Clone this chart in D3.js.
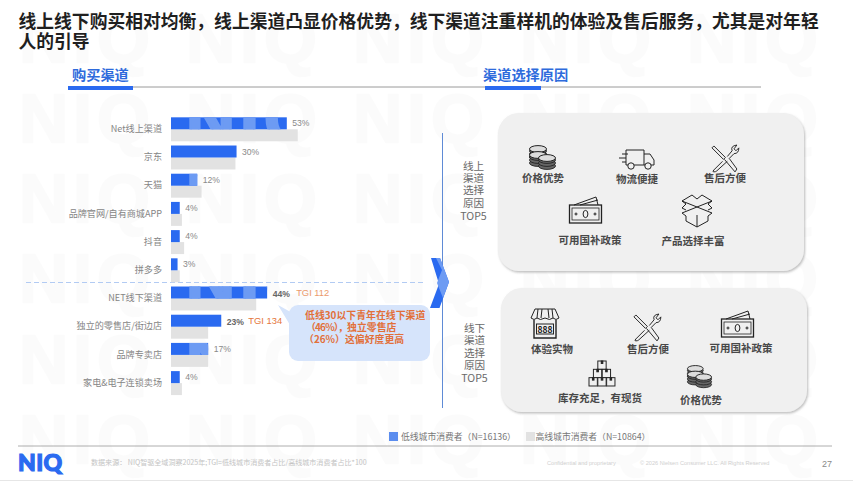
<!DOCTYPE html>
<html lang="zh-CN">

<head>
    <meta charset="UTF-8">
    <title>购买渠道</title>
    <script src="https://d3js.org/d3.v7.min.js"></script>
    <style>
        html, body { margin: 0; padding: 0; background: #fff; overflow: hidden; }
        svg { display: block; font-family: "Noto Sans CJK SC", "Liberation Sans", sans-serif; }
    </style>
</head>

<body>
    <svg width="853" height="481"></svg>
    <script>
        const channels = ["Net线上渠道", "京东", "天猫", "品牌官网/自有商城APP", "抖音", "拼多多",
            "NET线下渠道", "独立的零售店/街边店", "品牌专卖店", "家电&电子连锁卖场"];
        const lowTier = [53, 30, 12, 4, 4, 3, 44, 23, 17, 4];
        const highTier = [58, 29.5, 14, 5, 6, 4, 39, 17, 17, 5];
        const tgiLabels = ["", "", "", "", "", "", "TGI 112", "TGI 134", "", ""];
        const seriesNames = ["低线城市消费者（N=16136）", "高线城市消费者（N=10864）"];
        const calloutLines = [["", "低线30以下青年在线下渠道"], ["（46%），", "独立零售店"], ["", "（26%）这偏好度更高"]];

        const blue = "#2a6af0", paleBlue = "#6d9bf3", barGrey = "#e2e2e2";
        const svg = d3.select("svg");
        const defs = svg.append("defs");

        const shadow = defs.append("filter").attr("id", "shadow")
            .attr("x", "-5%").attr("y", "-5%").attr("width", "110%").attr("height", "112%");
        shadow.append("feDropShadow").attr("dx", 1).attr("dy", 1.5).attr("stdDeviation", 1.2)
            .attr("flood-color", "#888").attr("flood-opacity", 0.55);

        const x = d3.scaleLinear().domain([0, 100]).range([171, 389.5]);
        const y = d3.scaleBand().domain(channels).range([115.2, 397.2]).paddingInner(0.15).paddingOuter(0.075);
        const half = y.bandwidth() / 2;

        // repeated NIQ watermark, used faint on the page and lighter on the blue bars
        function watermark(g, rows, cols, fill, opacity) {
            rows.forEach(b => d3.range(cols).forEach(i => {
                g.append("text")
                    .attr("x", 19 + i * 167)
                    .attr("y", b)
                    .attr("font-family", "Liberation Sans")
                    .attr("font-weight", 700)
                    .attr("font-size", 68)
                    .attr("letter-spacing", 5)
                    .attr("fill", fill)
                    .attr("stroke", fill)
                    .attr("stroke-width", 2.5)
                    .attr("opacity", opacity)
                    .text("NIQ");
            }));
        }
        watermark(svg.append("g"), [62, 142, 222, 302, 383, 463], 5, "#000", 0.01);

        // title
        svg.append("text").attr("x", 18.5).attr("y", 28).attr("font-size", 17.8).attr("font-weight", 700).attr("fill", "#1f1f1f")
            .text("线上线下购买相对均衡，线上渠道凸显价格优势，线下渠道注重样机的体验及售后服务，尤其是对年轻");
        svg.append("text").attr("x", 18.5).attr("y", 48).attr("font-size", 17.8).attr("font-weight", 700).attr("fill", "#1f1f1f")
            .text("人的引导");

        // section headers
        svg.append("line").attr("x1", 68).attr("x2", 761).attr("y1", 87).attr("y2", 87).attr("stroke", "#808080").attr("stroke-width", 0.8);
        svg.append("rect").attr("x", 68).attr("y", 86).attr("width", 65).attr("height", 4).attr("fill", blue);
        svg.append("rect").attr("x", 485).attr("y", 86).attr("width", 56).attr("height", 4).attr("fill", blue);
        svg.append("text").attr("x", 72).attr("y", 80).attr("font-size", 14.2).attr("font-weight", 700).attr("fill", "#2e6bdc").text("购买渠道");
        svg.append("text").attr("x", 483).attr("y", 80).attr("font-size", 14.2).attr("font-weight", 700).attr("fill", "#2e6bdc").text("渠道选择原因");

        // dashed split online / offline
        svg.append("line").attr("x1", 26).attr("x2", 425).attr("y1", 282.5).attr("y2", 282.5)
            .attr("stroke", "#a9c5f2").attr("stroke-width", 0.9).attr("stroke-dasharray", "5 3");

        // bars
        const clip = defs.append("clipPath").attr("id", "lowBars");
        clip.selectAll("rect").data(lowTier).enter().append("rect")
            .attr("x", x(0))
            .attr("y", (d, i) => y(channels[i]))
            .attr("width", d => x(d) - x(0))
            .attr("height", half);

        svg.append("g").selectAll("rect").data(highTier).enter().append("rect")
            .attr("x", x(0))
            .attr("y", (d, i) => y(channels[i]) + half)
            .attr("width", d => x(d) - x(0))
            .attr("height", half)
            .attr("fill", barGrey);

        svg.append("g").selectAll("rect").data(lowTier).enter().append("rect")
            .attr("x", x(0))
            .attr("y", (d, i) => y(channels[i]))
            .attr("width", d => x(d) - x(0))
            .attr("height", half)
            .attr("fill", blue);

        watermark(svg.append("g").attr("clip-path", "url(#lowBars)"), [142, 222, 302, 383], 2, paleBlue, 1);

        // category labels
        svg.append("g").selectAll("text").data(channels).enter().append("text")
            .attr("x", 162)
            .attr("y", d => y(d) + half - 0.5)
            .attr("dy", "0.35em")
            .attr("text-anchor", "end")
            .attr("font-size", 9.1)
            .attr("fill", "#858585")
            .text(d => d);

        // value labels
        svg.append("g").selectAll("text").data(lowTier).enter().append("text")
            .attr("x", d => x(d) + 5.5)
            .attr("y", (d, i) => y(channels[i]) + half / 2 + (tgiLabels[i] ? 1 : 0))
            .attr("dy", "0.35em")
            .attr("font-family", "Liberation Sans")
            .attr("font-size", 8.6)
            .attr("font-weight", (d, i) => tgiLabels[i] ? 700 : 400)
            .attr("fill", (d, i) => tgiLabels[i] ? "#666" : "#8a8a8a")
            .text(d => d + "%");

        svg.append("g").selectAll("text").data(tgiLabels.filter(d => d)).enter().append("text")
            .attr("x", (d, i) => x(lowTier[6 + i]) + (i === 0 ? 29 : 27))
            .attr("y", (d, i) => y(channels[6 + i]) + half / 2)
            .attr("dy", "0.35em")
            .attr("font-family", "Liberation Sans")
            .attr("font-size", 9.4)
            .attr("fill", (d, i) => i === 0 ? "#eb9a6c" : "#e5763b")
            .text(d => d);

        // callout
        svg.append("path")
            .attr("d", "M278 305 L296 315 L296 335 Z")
            .attr("fill", "#d6e4fb");
        svg.append("rect").attr("x", 289).attr("y", 305).attr("width", 141).attr("height", 56).attr("rx", 9)
            .attr("fill", "#d6e4fb");
        const callout = svg.append("g").selectAll("text").data(calloutLines).enter().append("text")
            .attr("x", (d, i) => [305, 306, 304][i])
            .attr("y", (d, i) => 316 + i * 12)
            .attr("dy", "0.35em")
            .attr("font-size", 9.9)
            .attr("font-weight", 700)
            .attr("fill", "#e2703a");
        callout.append("tspan").attr("letter-spacing", -0.8).text(d => d[0]);
        callout.append("tspan").text(d => d[1]);

        // vertical rule and chevron
        svg.append("line").attr("x1", 442.5).attr("x2", 442.5).attr("y1", 133).attr("y2", 408)
            .attr("stroke", "#5f8bd6").attr("stroke-width", 1);
        svg.append("path").attr("d", "M431 258 L440 258 L449 282 L439.5 308 L430 308 L439 284 Z").attr("fill", blue);
        svg.append("path").attr("d", "M436 258 L440 258 L449 282 L443 298 L437 283 L442 270 Z").attr("fill", paleBlue);

        // reason panels
        svg.append("rect").attr("x", 498).attr("y", 113).attr("width", 306).attr("height", 158).attr("rx", 21)
            .attr("fill", "#f0f0f0").attr("filter", "url(#shadow)");
        svg.append("rect").attr("x", 501).attr("y", 288).attr("width", 306).attr("height", 124).attr("rx", 21)
            .attr("fill", "#f0f0f0").attr("filter", "url(#shadow)");

        function sideLabel(cx, ys, lines) {
            svg.append("g").selectAll("text").data(lines).enter().append("text")
                .attr("x", cx)
                .attr("y", (d, i) => ys[i])
                .attr("dy", "0.35em")
                .attr("text-anchor", "middle")
                .attr("font-size", 10.6)
                .attr("fill", "#6a6a6a")
                .text(d => d);
        }
        sideLabel(473.5, [166, 178, 190.5, 203, 216], ["线上", "渠道", "选择", "原因", "TOP5"]);
        sideLabel(474.5, [328, 340, 353, 365, 378], ["线下", "渠道", "选择", "原因", "TOP5"]);

        // icons, each drawn in a box roughly 32 wide and 28 high
        const icons = {
            coins(g) {
                const coin = (cx, cy) => {
                    [6, 3, 0].forEach(o => {
                        g.append("ellipse").attr("cx", cx).attr("cy", cy + o + 2).attr("rx", 8.5).attr("ry", 3.4)
                            .attr("fill", "#666").attr("stroke", "#222").attr("stroke-width", 0.9);
                    });
                    g.append("ellipse").attr("cx", cx).attr("cy", cy).attr("rx", 8.5).attr("ry", 3.4)
                        .attr("fill", "#ddd").attr("stroke", "#222").attr("stroke-width", 1);
                };
                coin(10, 4); coin(10, 10); coin(19, 13);
            },
            truck(g) {
                g.append("path").attr("d", "M7 2 H25 V17 H7 Z M25 6 H31 L35 12 V17 H25 M3 6 H9 M0 10 H7 M3 14 H7");
                [[12, 18], [29, 18]].forEach(c => g.append("circle").attr("cx", c[0]).attr("cy", c[1]).attr("r", 3.2).attr("fill", "#f0f0f0"));
            },
            tools(g) {
                g.append("path").attr("d", "M1 3 L3 1 L15 13 L13 15 Z M12 17 L3 26 Q1 28 3 28 Q5 28 6 27 L17 17 M17 12 L22 6 Q20 1 27 0 L24 4 L26 6 L29 3 Q29 9 24 9 L19 14 L27 25 L25 28 L14 15");
            },
            money(g) {
                g.append("path").attr("d", "M5 8 L27 0 L29 8 M11 8 L29 3");
                g.append("rect").attr("x", 0.5).attr("y", 8).attr("width", 32).attr("height", 18).attr("stroke-width", 1.3);
                g.append("rect").attr("x", 3).attr("y", 11).attr("width", 27).attr("height", 12).attr("stroke-width", 0.8);
                g.append("ellipse").attr("cx", 16.5).attr("cy", 17).attr("rx", 2.4).attr("ry", 3.6);
                g.append("circle").attr("cx", 7).attr("cy", 17).attr("r", 1);
                g.append("circle").attr("cx", 26).attr("cy", 17).attr("r", 1);
            },
            box(g) {
                g.append("path").attr("d", "M16 12 L1 6 L11 0 L16 4 L21 0 L31 6 Z M16 12 L1 18 L5 21 L5 26 L16 32 L27 26 L27 21 L31 18 L16 12 M1 6 L5 9 L1 13 L5 15 M31 6 L27 9 L31 13 L27 15 M16 20 V32");
            },
            store(g) {
                g.append("path").attr("d", "M4 0 H24 L28 9 Q25 12 22 9 Q19 12 14 9 Q9 12 6 9 Q3 12 0 9 Z M7 0 L6 9 M11 0 L10 9 M17 0 L18 9 M21 0 L22 9");
                g.append("path").attr("d", "M3 11 V29 H25 V11").attr("stroke-width", 1.4);
                g.append("rect").attr("x", 5.5).attr("y", 15).attr("width", 17).attr("height", 10).attr("stroke-width", 1);
                g.append("text").attr("x", 14).attr("y", 23.5).attr("text-anchor", "middle").attr("font-size", 8.5)
                    .attr("font-weight", 700).attr("stroke", "none").attr("fill", "#222").text("888");
            },
            boxes(g) {
                [[9, 0], [4.5, 8.5], [13.5, 8.5], [0, 17], [9, 17], [18, 17]].forEach(b => {
                    g.append("rect").attr("x", b[0]).attr("y", b[1]).attr("width", 8.5).attr("height", 8.5).attr("fill", "#f0f0f0");
                    g.append("rect").attr("x", b[0] + 3.5).attr("y", b[1]).attr("width", 1.6).attr("height", 2.5).attr("fill", "#222");
                });
            }
        };
        function icon(name, left, top, k) {
            const g = svg.append("g")
                .attr("transform", `translate(${left},${top}) scale(${k})`)
                .attr("fill", "none").attr("stroke", "#222").attr("stroke-width", 1);
            icons[name](g);
        }
        icon("coins", 528, 145, 1);
        icon("truck", 619, 148, 1);
        icon("tools", 711, 145, 0.96);
        icon("money", 569, 197, 1);
        icon("box", 681, 195, 1);
        icon("store", 531, 309, 1);
        icon("tools", 633, 314, 0.96);
        icon("money", 721, 311, 1);
        icon("boxes", 589, 361, 0.98);
        icon("coins", 686, 365, 0.93);

        const reasons = [
            ["价格优势", 543, 178], ["物流便捷", 637, 179.5], ["售后方便", 725, 178],
            ["可用国补政策", 590, 240], ["产品选择丰富", 693, 241],
            ["体验实物", 552, 349], ["售后方便", 648, 349], ["可用国补政策", 741, 348],
            ["库存充足，有现货", 600, 398], ["价格优势", 701, 400]
        ];
        svg.append("g").selectAll("text").data(reasons).enter().append("text")
            .attr("x", d => d[1])
            .attr("y", d => d[2])
            .attr("dy", "0.35em")
            .attr("text-anchor", "middle")
            .attr("font-size", 10.5)
            .attr("font-weight", 700)
            .attr("fill", "#484848")
            .text(d => d[0]);

        // legend
        svg.append("rect").attr("x", 389).attr("y", 432).attr("width", 9).attr("height", 9).attr("fill", "#5b8def");
        svg.append("rect").attr("x", 526).attr("y", 432).attr("width", 9).attr("height", 9).attr("fill", barGrey);
        svg.append("text").attr("x", 401).attr("y", 436.5).attr("dy", "0.35em").attr("font-size", 8.8).attr("fill", "#777").text(seriesNames[0]);
        svg.append("text").attr("x", 535.5).attr("y", 436.5).attr("dy", "0.35em").attr("font-size", 8.8).attr("fill", "#777").text(seriesNames[1]);

        // footer
        svg.append("line").attr("x1", 18).attr("x2", 832).attr("y1", 446).attr("y2", 446).attr("stroke", "#999").attr("stroke-width", 0.8);
        svg.append("text").attr("x", 18).attr("y", 471).attr("font-family", "Lato").attr("font-weight", 900).attr("font-size", 23)
            .attr("letter-spacing", 0.4).attr("fill", blue).attr("stroke", blue).attr("stroke-width", 1.2).text("NIQ");
        svg.append("text").attr("x", 91).attr("y", 462.5).attr("dy", "0.35em").attr("font-size", 7.05).attr("fill", "#c4c4c4")
            .text("数据来源： NIQ智驱全域洞察2025年;TGI=低线城市消费者占比/高线城市消费者占比*100");
        svg.append("text").attr("x", 547).attr("y", 463).attr("dy", "0.35em").attr("font-family", "Liberation Sans").attr("font-size", 5.6).attr("fill", "#d0d0d0")
            .text("Confidential and proprietary");
        svg.append("text").attr("x", 640).attr("y", 463).attr("dy", "0.35em").attr("font-family", "Liberation Sans").attr("font-size", 5.6).attr("fill", "#d0d0d0")
            .text("© 2026 Nielsen Consumer LLC. All Rights Reserved");
        svg.append("text").attr("x", 832).attr("y", 463.5).attr("dy", "0.35em").attr("text-anchor", "end").attr("font-family", "Liberation Sans").attr("font-size", 9).attr("fill", "#8a8a8a")
            .text("27");
        svg.append("rect").attr("x", 0).attr("y", 480).attr("width", 853).attr("height", 1).attr("fill", "#e6e6e6");
    </script>
</body>

</html>
